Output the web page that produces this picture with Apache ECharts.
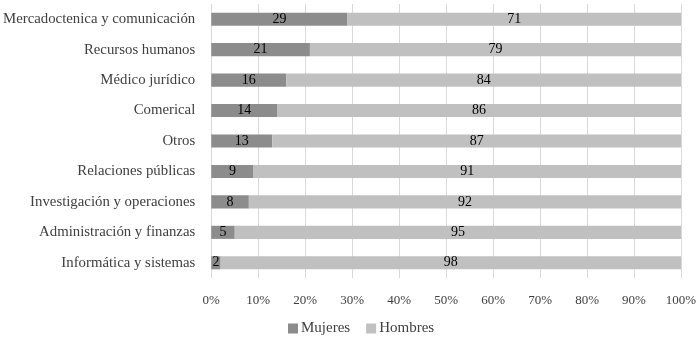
<!DOCTYPE html>
<html>
<head>
<meta charset="utf-8">
<script src="https://cdn.jsdelivr.net/npm/echarts@6/dist/echarts.min.js"></script>
<style>
  html, body { margin: 0; padding: 0; background: #fff; }
  #chart { width: 700px; height: 340px; }
</style>
</head>
<body>
<div id="chart"></div>
<script>
// categorías de arriba hacia abajo
const categories = [
  'Mercadoctenica y comunicación',
  'Recursos humanos',
  'Médico jurídico',
  'Comerical',
  'Otros',
  'Relaciones públicas',
  'Investigación y operaciones',
  'Administración y finanzas',
  'Informática y sistemas'
];
const mujeres = [29, 21, 16, 14, 13, 9, 8, 5, 2];
const hombres = [71, 79, 84, 86, 87, 91, 92, 95, 98];
const seriesNames = ['Mujeres', 'Hombres'];

const font = '"Liberation Serif", "DejaVu Serif", serif';
const textColor = '#404040';

const chart = echarts.init(document.getElementById('chart'));

const label = {
  show: true,
  position: 'inside',
  color: '#000',
  fontFamily: font,
  fontSize: 14
};

chart.setOption({
  animation: false,
  textStyle: { fontFamily: font },
  grid: { left: 211, right: 19, top: 4, bottom: 62, containLabel: false },
  legend: {
    data: seriesNames,
    top: 316,
    left: 283,
    itemWidth: 10,
    itemHeight: 10,
    itemGap: 16,
    icon: 'rect',
    textStyle: { color: textColor, fontSize: 15, fontFamily: font, padding: [0, 0, 0, -2] }
  },
  xAxis: {
    type: 'value',
    min: 0,
    max: 100,
    interval: 10,
    axisLine: { show: false },
    axisTick: { show: false },
    splitLine: { lineStyle: { color: '#d9d9d9', width: 1 } },
    axisLabel: {
      formatter: '{value}%',
      color: textColor,
      fontSize: 13,
      fontFamily: font,
      margin: 16
    }
  },
  yAxis: {
    type: 'category',
    data: categories,
    inverse: true,
    axisLine: { show: false },
    axisTick: { show: false },
    axisLabel: {
      color: textColor,
      fontSize: 14.8,
      fontFamily: font,
      margin: 16
    }
  },
  series: [
    {
      name: seriesNames[0],
      type: 'bar',
      stack: 'total',
      data: mujeres,
      barCategoryGap: '57%',
      itemStyle: { color: '#8c8c8c' },
      label: label
    },
    {
      name: seriesNames[1],
      type: 'bar',
      stack: 'total',
      data: hombres,
      barCategoryGap: '57%',
      itemStyle: { color: '#c0c0c0' },
      label: label
    }
  ]
});
</script>
</body>
</html>
